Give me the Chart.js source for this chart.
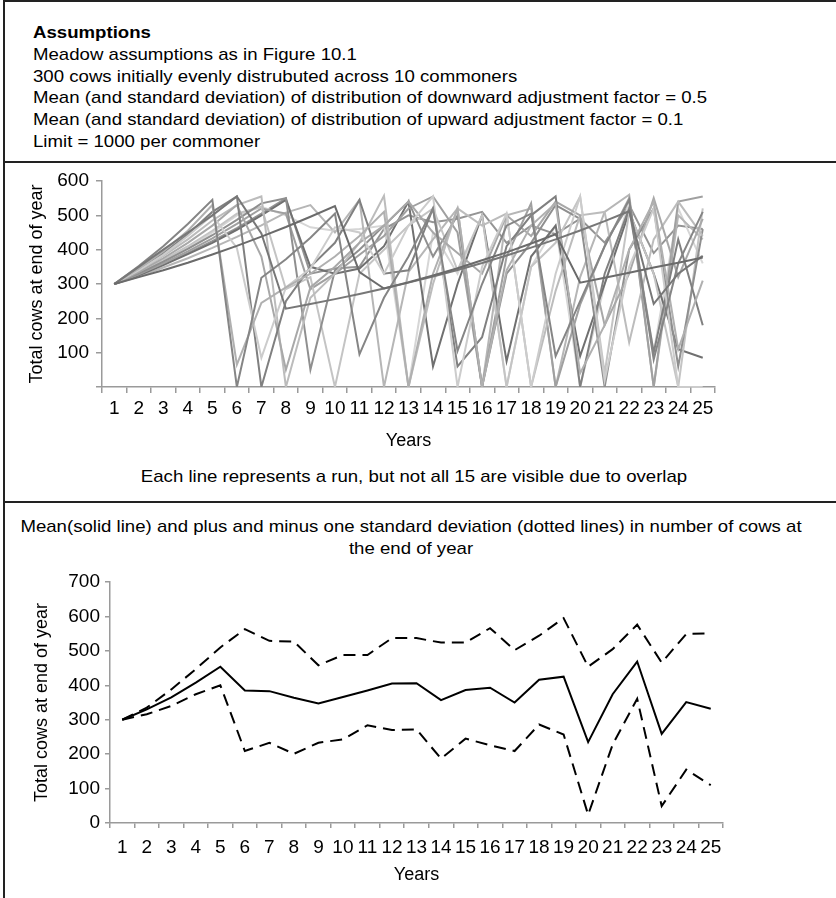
<!DOCTYPE html>
<html>
<head>
<meta charset="utf-8">
<script src="https://cdn.jsdelivr.net/npm/chart.js@4.4.1/dist/chart.umd.min.js"></script>
<style>
    body { margin: 0; background: #fff; font-family: "Liberation Sans", Arial, sans-serif; color: #000; }
    #page { position: relative; width: 836px; height: 898px; overflow: hidden; }
    .rule { position: absolute; background: #222; }
    .text { position: absolute; font-size: 17px; line-height: 21.8px; white-space: nowrap; }
    .wide { transform: scaleX(1.095); transform-origin: left top; }
    .wide-c { transform: scaleX(1.095); transform-origin: center top; }
    canvas { position: absolute; left: 0; }
</style>
</head>
<body>
<div id="page">
    <div class="text wide" style="left:33px; top:22px;">
        <b>Assumptions</b><br>
        Meadow assumptions as in Figure 10.1<br>
        300 cows initially evenly distrubuted across 10 commoners<br>
        Mean (and standard deviation) of distribution of downward adjustment factor = 0.5<br>
        Mean (and standard deviation) of distribution of upward adjustment factor = 0.1<br>
        Limit = 1000 per commoner
    </div>

    <canvas id="runsChart" width="836" height="298" style="top:162px;"></canvas>
    <div class="text wide-c" style="left:0; width:828px; text-align:center; top:466px;">Each line represents a run, but not all 15 are visible due to overlap</div>

    <div class="text wide-c" style="left:0; width:822px; text-align:center; top:516px; line-height:21.5px;">
        Mean(solid line) and plus and minus one standard deviation (dotted lines) in number of cows at<br>the end of year
    </div>
    <canvas id="statsChart" width="836" height="333" style="top:565px;"></canvas>

    <div class="rule" style="left:3px; top:0; width:1.5px; height:898px;"></div>
    <div class="rule" style="left:3px; top:0; width:833px; height:1.5px;"></div>
    <div class="rule" style="left:3px; top:161px; width:833px; height:1.5px;"></div>
    <div class="rule" style="left:3px; top:501px; width:833px; height:1.5px;"></div>
</div>

<script>
// Years on the x axis
const years = ['1','2','3','4','5','6','7','8','9','10','11','12','13','14','15','16','17','18','19','20','21','22','23','24','25'];

// Top chart: 15 simulation runs (cows at end of year)
const run01 = [300,320,340,362,386,411,438,466,496,527,335,287,305,325,346,369,392,418,445,304,318,333,348,362,377];
const run02 = [300,350,400,450,500,555,447,228,242,256,271,287,304,322,341,361,383,406,430,456,483,512,242,330,382];
const run03 = [300,352,410,475,545,0,318,372,435,505,95,260,380,520,105,300,470,505,90,250,410,545,80,360,510];
const run04 = [300,345,395,455,530,65,245,290,330,380,440,510,0,330,520,0,340,470,535,40,180,400,540,110,310];
const run05 = [300,340,385,440,500,405,85,290,345,465,450,330,470,555,0,350,505,0,330,555,20,350,520,0,0];
const run06 = [300,340,390,445,510,555,0,250,350,420,545,330,340,520,60,145,410,500,555,0,330,520,100,430,180];
const run07 = [300,335,375,420,470,530,380,50,290,350,420,470,540,450,390,330,500,440,540,500,180,330,550,320,490];
const run08 = [300,338,382,430,485,530,555,0,260,330,420,557,0,300,520,470,505,0,280,500,510,130,430,540,440];
const run09 = [300,330,365,402,442,487,535,550,50,340,400,470,540,380,500,0,330,420,530,490,0,400,520,60,460];
const run10 = [300,333,370,410,455,505,525,285,320,0,330,400,470,520,340,500,0,350,420,555,40,510,330,0,520];
const run11 = [300,328,360,395,433,475,520,505,285,330,385,440,520,555,450,0,380,535,0,240,410,550,0,540,555];
const run12 = [300,325,355,387,420,458,500,545,350,330,345,410,540,60,300,500,75,380,470,90,300,510,330,110,85];
const run13 = [300,322,348,375,405,437,471,508,530,450,545,0,335,430,520,0,500,520,0,320,510,560,0,500,430];
const run14 = [300,330,365,405,450,500,525,500,465,455,460,470,0,450,330,500,0,350,470,0,300,540,100,520,360];
const run15 = [300,327,357,390,425,463,505,550,330,345,350,460,500,480,490,510,420,470,445,490,420,530,390,470,460];

const runs = [run01, run02, run03, run04, run05, run06, run07, run08, run09, run10, run11, run12, run13, run14, run15];
const runColors = ['#6b6b6b','#777777','#858585','#b0b0b0','#cccccc','#808080','#a8a8a8','#bcbcbc',
                   '#8f8f8f','#c4c4c4','#a0a0a0','#707070','#b6b6b6','#d6d6d6','#949494'];

// Bottom chart: mean and +/- one standard deviation
const meanCows = [300,330,365,408,454,385,383,364,347,366,385,405,406,357,386,393,350,416,425,235,374,469,259,351,332];
const plusOneSd = [300,335,388,447,510,563,529,527,458,488,488,537,537,524,524,566,502,544,595,454,505,576,466,549,551];
const minusOneSd = [300,316,340,374,400,209,233,201,233,243,284,270,272,187,245,226,209,286,257,24,228,361,49,155,110];

Chart.defaults.font.family = '"Liberation Sans", Arial, sans-serif';
Chart.defaults.color = '#000';

const axisGray = '#9a9a9a';

function makeScales(opts) {
    return {
        x: {
            offset: true,
            grid: { offset: true, drawOnChartArea: false, tickLength: opts.tickLen, color: axisGray, lineWidth: 1.5 },
            border: { color: axisGray, width: 1.5 },
            ticks: { autoSkip: false, maxRotation: 0, padding: opts.xPad, font: { size: 19 } },
            title: { display: true, text: 'Years', font: { size: 18 }, padding: { top: 0, bottom: opts.yearsPad } },
            afterFit: s => { s.height = opts.xHeight; }
        },
        y: {
            min: 0,
            max: opts.max,
            grid: { drawOnChartArea: false, tickLength: opts.tickLen, color: axisGray, lineWidth: 1.5 },
            border: { color: axisGray, width: 1.5 },
            ticks: {
                stepSize: 100,
                padding: opts.yPad,
                font: { size: 19 },
                callback: v => (v === 0 && opts.hideZero) ? '' : v
            },
            title: { display: true, text: 'Total cows at end of year', font: { size: 18 }, padding: { top: opts.titlePad, bottom: 0 } },
            afterFit: s => { s.width = opts.yWidth; }
        }
    };
}

new Chart(document.getElementById('runsChart'), {
    type: 'line',
    data: {
        labels: years,
        datasets: runs.map((r, i) => ({
            data: r,
            borderColor: runColors[i],
            borderWidth: 2,
            pointRadius: 0,
            tension: 0,
            fill: false
        }))
    },
    options: {
        responsive: false,
        animation: false,
        layout: { padding: { top: 19, right: 121, left: 0, bottom: 0 } },
        plugins: { legend: { display: false }, tooltip: { enabled: false } },
        scales: makeScales({ max: 600, tickLen: 6, xPad: 4, yPad: 7, yearsPad: 8, xHeight: 73, yWidth: 102, titlePad: 26, hideZero: true })
    }
});

new Chart(document.getElementById('statsChart'), {
    type: 'line',
    data: {
        labels: years,
        datasets: [
            { data: meanCows, borderColor: '#000', borderWidth: 2, pointRadius: 0, tension: 0 },
            { data: plusOneSd, borderColor: '#000', borderWidth: 2, borderDash: [12, 7], pointRadius: 0, tension: 0 },
            { data: minusOneSd, borderColor: '#000', borderWidth: 2, borderDash: [12, 7], pointRadius: 0, tension: 0 }
        ]
    },
    options: {
        responsive: false,
        animation: false,
        layout: { padding: { top: 17, right: 113, left: 0, bottom: 0 } },
        plugins: { legend: { display: false }, tooltip: { enabled: false } },
        scales: makeScales({ max: 700, tickLen: 5, xPad: 8, yPad: 5, yearsPad: 12, xHeight: 75, yWidth: 110, titlePad: 31, hideZero: false })
    }
});
</script>
</body>
</html>
